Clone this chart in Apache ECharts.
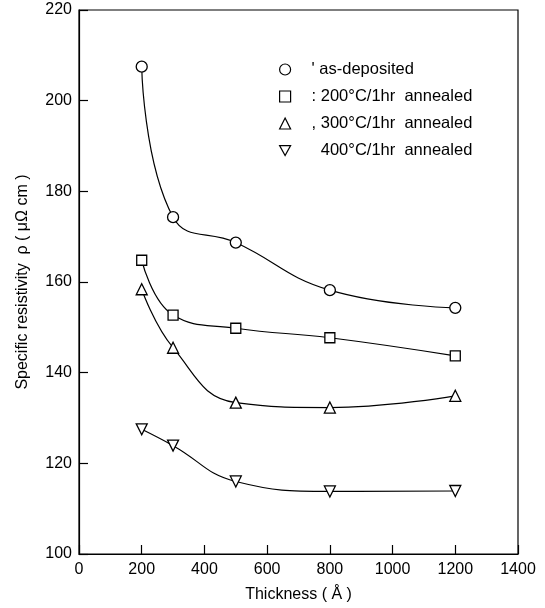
<!DOCTYPE html>
<html>
<head>
<meta charset="utf-8">
<script src="https://cdn.jsdelivr.net/npm/echarts@6/dist/echarts.min.js"></script>
<style>
html,body{margin:0;padding:0;background:#fff;}
#chart{width:545px;height:608px;}
</style>
</head>
<body>
<div id="chart"></div>
<script>
const thickness = [200, 300, 500, 800, 1200];
const asDeposited = [207.5, 174.3, 168.7, 158.2, 154.3];
const annealed200 = [164.8, 152.7, 149.8, 147.7, 143.7];
const annealed300 = [158.4, 145.5, 133.4, 132.3, 134.9];
const annealed400 = [127.5, 123.9, 116.0, 113.8, 113.9];
const seriesNames = ["' as-deposited", ": 200\u00B0C/1hr  annealed", ", 300\u00B0C/1hr  annealed", "  400\u00B0C/1hr  annealed"];
const xTicks = [0, 200, 400, 600, 800, 1000, 1200, 1400];
const yTicks = [100, 120, 140, 160, 180, 200, 220];

const font = "'Liberation Sans', Arial, sans-serif";
function pairs(vals){ return thickness.map((t,i)=>[t, vals[i]]); }
const symbols = ['circle', 'rect', 'triangle', 'triangle'];
const rotations = [0, 0, 0, 180];
const allVals = [asDeposited, annealed200, annealed300, annealed400];

const series = allVals.map((v, i) => ({
  name: seriesNames[i],
  type: 'line',
  data: pairs(v),
  smooth: 0.45,
  symbol: symbols[i],
  symbolRotate: rotations[i],
  symbolSize: i === 1 ? 10 : 11,
  showAllSymbol: true,
  lineStyle: {color: '#000', width: 1.2},
  itemStyle: {color: '#fff', borderColor: '#000', borderWidth: 1.3},
  emphasis: {disabled: true},
  z: 3
}));

const chart = echarts.init(document.getElementById('chart'), null, {renderer: 'canvas'});
chart.setOption({
  animation: false,
  backgroundColor: '#fff',
  grid: {left: 79, right: 27, top: 10, bottom: 53, show: true, borderColor: '#000', borderWidth: 1.2, backgroundColor: 'transparent'},
  legend: {
    orient: 'vertical',
    left: 274,
    top: 56,
    itemWidth: 11,
    itemHeight: 11,
    itemGap: 10,
    selectedMode: false,
    data: [
      {name: seriesNames[0], icon: 'circle'},
      {name: seriesNames[1], icon: 'rect'},
      {name: seriesNames[2], icon: 'triangle'},
      {name: seriesNames[3], icon: 'path://M0,0 L10,0 L5,9 Z'}
    ],
    itemStyle: {color: '#fff', borderColor: '#000', borderWidth: 1.2},
    lineStyle: {opacity: 0},
    textStyle: {fontFamily: font, fontSize: 16.5, color: '#000', padding: [0, 0, 0, 16]}
  },
  xAxis: {
    type: 'value',
    min: 0, max: 1400, interval: 200,
    name: 'Thickness ( \u00C5 )',
    nameLocation: 'middle',
    nameGap: 33,
    nameTextStyle: {fontFamily: font, fontSize: 16, color: '#000'},
    axisLine: {show: true, onZero: false, lineStyle: {color: '#000', width: 1.2}},
    axisTick: {show: true, inside: true, length: 9, lineStyle: {color: '#000', width: 1.2}},
    axisLabel: {fontFamily: font, fontSize: 16, color: '#000', margin: 8,
      formatter: v => xTicks.includes(v) ? String(v) : ''},
    splitLine: {show: false}
  },
  yAxis: {
    type: 'value',
    min: 100, max: 220, interval: 20,
    name: 'Specific resistivity  \u03C1 ( \u03BC\u03A9 cm )',
    nameLocation: 'middle',
    nameGap: 48,
    nameRotate: 90,
    nameTextStyle: {fontFamily: font, fontSize: 16, color: '#000'},
    axisLine: {show: true, onZero: false, lineStyle: {color: '#000', width: 1.2}},
    axisTick: {show: true, inside: true, length: 9, lineStyle: {color: '#000', width: 1.2}},
    axisLabel: {fontFamily: font, fontSize: 16, color: '#000', margin: 7,
      formatter: v => yTicks.includes(v) ? String(v) : ''},
    splitLine: {show: false}
  },
  series: series
});
</script>
</body>
</html>
